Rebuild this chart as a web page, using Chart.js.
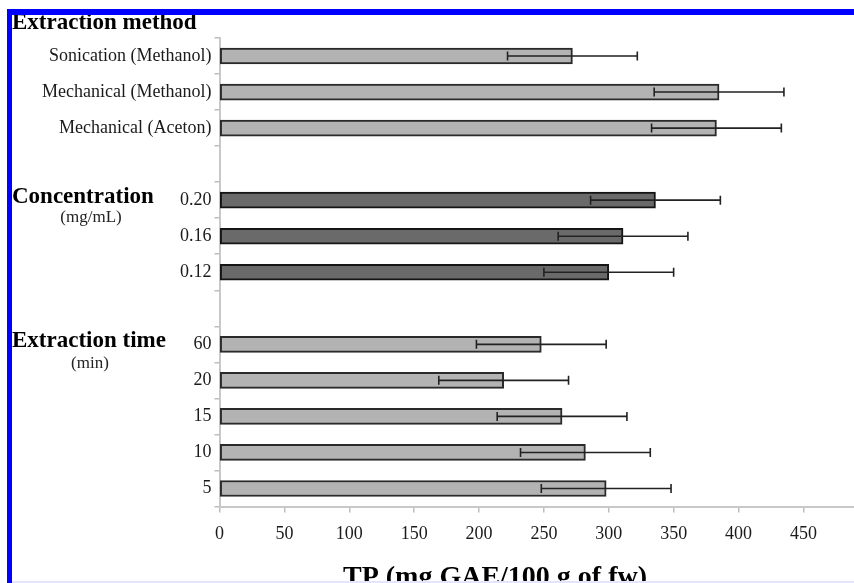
<!DOCTYPE html>
<html>
<head>
<meta charset="utf-8">
<script src="https://cdn.jsdelivr.net/npm/chart.js@4.4.0/dist/chart.umd.min.js"></script>
<style>
  html, body { margin: 0; padding: 0; background: #fff; }
  #wrap { width: 854px; height: 583px; position: relative; }
</style>
</head>
<body>
<div id="wrap"><canvas id="tp-chart"></canvas></div>
<script>
// rows top to bottom, '' = empty spacer row between groups
const labels = ['Sonication (Methanol)', 'Mechanical (Methanol)', 'Mechanical (Aceton)', '',
  '0.20', '0.16', '0.12', '',
  '60', '20', '15', '10', '5'];
const tpValues = [272, 385, 383, null, 336, 311, 300, null, 248, 219, 264, 282, 298];
const tpErrors = [50, 50, 50, null, 50, 50, 50, null, 50, 50, 50, 50, 50];
const rowGroup = ['method', 'method', 'method', '', 'conc', 'conc', 'conc', '', 'time', 'time', 'time', 'time', 'time'];
const xTicks = [0, 50, 100, 150, 200, 250, 300, 350, 400, 450];
const groupTitles = ['Extraction method', 'Concentration', 'Extraction time'];
const groupUnits = ['', '(mg/mL)', '(min)'];
const xTitle = 'TP (mg GAE/100 g of fw)';

const SERIF = '"Liberation Serif", "Times New Roman", serif';

// error bars drawn on top of the bars
const errorBars = {
  id: 'errorBars',
  afterDatasetsDraw(chart) {
    const { ctx, scales: { x, y } } = chart;
    ctx.save();
    ctx.strokeStyle = '#222';
    ctx.lineWidth = 1.6;
    tpValues.forEach((v, i) => {
      if (v == null) return;
      const yc = y.getPixelForValue(i);
      const x1 = x.getPixelForValue(v - tpErrors[i]);
      const x2 = x.getPixelForValue(v + tpErrors[i]);
      ctx.beginPath();
      ctx.moveTo(x1, yc); ctx.lineTo(x2, yc);
      ctx.moveTo(x1, yc - 4.5); ctx.lineTo(x1, yc + 4.5);
      ctx.moveTo(x2, yc - 4.5); ctx.lineTo(x2, yc + 4.5);
      ctx.stroke();
    });
    ctx.restore();
  }
};

// group headings, x title and the blue frame
const decorations = {
  id: 'decorations',
  afterDraw(chart) {
    const { ctx } = chart;
    ctx.save();
    ctx.fillStyle = '#000';
    ctx.textBaseline = 'alphabetic';
    ctx.textAlign = 'left';
    ctx.font = 'bold 23px ' + SERIF;
    ctx.fillText(groupTitles[0], 12, 28.5);
    ctx.fillText(groupTitles[1], 12, 203);
    ctx.fillText(groupTitles[2], 12, 347);

    ctx.fillStyle = '#222';
    ctx.textAlign = 'center';
    ctx.font = '17px ' + SERIF;
    ctx.fillText(groupUnits[1], 91, 222);
    ctx.fillText(groupUnits[2], 90, 368);

    ctx.fillStyle = '#000';
    ctx.font = 'bold 28px ' + SERIF;
    ctx.fillText(xTitle, 495, 585);

    // frame
    ctx.fillStyle = '#0000ff';
    ctx.fillRect(7, 9, 847, 6);
    ctx.fillRect(7, 9, 5, 574);
    ctx.fillStyle = '#e4e4ff';
    ctx.fillRect(12, 581, 842, 2);
    ctx.restore();
  }
};

new Chart(document.getElementById('tp-chart'), {
  type: 'bar',
  data: {
    labels: labels,
    datasets: [{
      data: tpValues,
      backgroundColor: rowGroup.map(g => g === 'conc' ? '#6a6a6a' : '#b3b3b3'),
      borderColor: rowGroup.map(g => g === 'conc' ? '#151515' : '#2a2a2a'),
      borderWidth: 2,
      borderSkipped: false,
      barThickness: 16
    }]
  },
  options: {
    indexAxis: 'y',
    responsive: true,
    maintainAspectRatio: false,
    animation: false,
    layout: { padding: { top: 38, left: 0, right: 0, bottom: 0 } },
    plugins: { legend: { display: false }, tooltip: { enabled: false } },
    scales: {
      x: {
        type: 'linear',
        min: 0,
        max: 489,
        afterBuildTicks: s => { s.ticks = xTicks.map(v => ({ value: v })); },
        afterFit: s => { s.height = 76.5; },
        grid: { drawOnChartArea: false, tickLength: 6, color: '#bdbdbd', lineWidth: 1.5 },
        border: { color: '#c8c8c8', width: 2 },
        ticks: { color: '#1a1a1a', padding: 11, font: { family: SERIF, size: 18 } }
      },
      y: {
        type: 'category',
        afterFit: s => { s.width = 219.5; },
        grid: { offset: true, drawOnChartArea: false, tickLength: 5, color: '#bdbdbd', lineWidth: 1.5 },
        border: { color: '#c8c8c8', width: 2 },
        ticks: { color: '#1a1a1a', padding: 3, autoSkip: false, font: { family: SERIF, size: 18 } }
      }
    }
  },
  plugins: [errorBars, decorations]
});
</script>
</body>
</html>
